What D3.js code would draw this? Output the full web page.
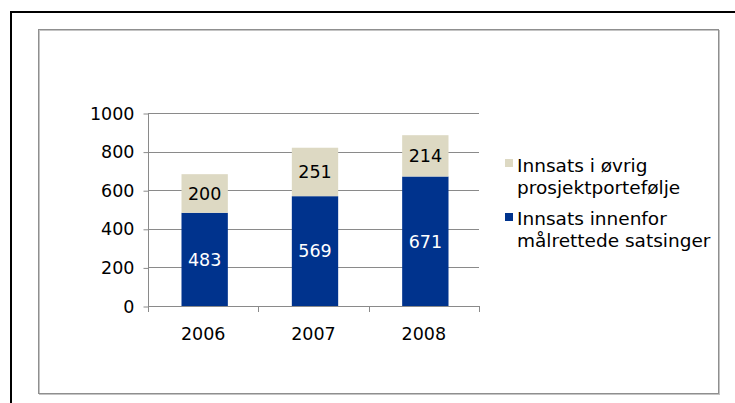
<!DOCTYPE html>
<html>
<head>
<meta charset="utf-8">
<script src="https://cdn.jsdelivr.net/npm/d3@7"></script>
<style>
  html, body { margin: 0; padding: 0; background: #fff; }
  svg { display: block; font-family: "DejaVu Sans", Verdana, sans-serif; }
</style>
</head>
<body>
<svg id="chart" width="735" height="403"></svg>
<script>
const years = ["2006", "2007", "2008"];
const innenfor = [483, 569, 671];
const ovrig = [200, 251, 214];
const yTicks = [0, 200, 400, 600, 800, 1000];
const seriesNames = ["Innsats i øvrig|prosjektportefølje", "Innsats innenfor|målrettede satsinger"];
const colors = { innenfor: "#00338D", ovrig: "#DDD9C3" };

const svg = d3.select("#chart");
const FS = 17.5;

// outer black frame (left + top)
svg.append("path")
  .attr("d", "M11,403 L11,12 L735,12")
  .attr("fill", "none").attr("stroke", "#000").attr("stroke-width", 2);

// inner chart box
svg.append("rect").attr("x", 39.5).attr("y", 30.5).attr("width", 680).attr("height", 364)
  .attr("fill", "none").attr("stroke", "#c4c4c4").attr("stroke-width", 1);
svg.append("rect").attr("x", 38.5).attr("y", 29.5).attr("width", 680).attr("height", 364)
  .attr("fill", "none").attr("stroke", "#8f8f8f").attr("stroke-width", 1);

const y = d3.scaleLinear().domain([0, 1000]).range([306, 113]);
const x = d3.scaleBand().domain(years).range([148, 479]).padding(0);
const barW = x.bandwidth() * 0.42;

const gridColor = "#8a8a8a";

// gridlines
svg.append("g").selectAll("line").data(yTicks.filter(d => d > 0)).join("line")
  .attr("x1", 148).attr("x2", 479)
  .attr("y1", d => Math.round(y(d)) + 0.5).attr("y2", d => Math.round(y(d)) + 0.5)
  .attr("stroke", gridColor).attr("stroke-width", 1);

// y axis
const yAxis = d3.axisLeft(y).tickValues(yTicks).tickFormat(d3.format("d")).tickSize(5).tickPadding(9);
const gy = svg.append("g").attr("transform", "translate(148.5,0.5)").call(yAxis);
gy.select(".domain").attr("stroke", gridColor).attr("d", `M-0,${y(1000)}V${y(0)}`);
gy.selectAll(".tick line").attr("stroke", gridColor);
gy.selectAll(".tick text").attr("font-size", FS).attr("fill", "#000")
  .attr("font-family", "DejaVu Sans, Verdana, sans-serif");

// x axis
svg.append("line").attr("x1", 148).attr("x2", 479.5).attr("y1", 306.5).attr("y2", 306.5)
  .attr("stroke", gridColor);
const bounds = years.map(d => x(d)).concat([x(years[years.length - 1]) + x.bandwidth()]);
svg.append("g").selectAll("line").data(bounds).join("line")
  .attr("x1", d => Math.round(d) + 0.5).attr("x2", d => Math.round(d) + 0.5)
  .attr("y1", 306).attr("y2", 312).attr("stroke", gridColor);
svg.append("g").selectAll("text").data(years).join("text")
  .attr("x", d => x(d) + x.bandwidth() / 2).attr("y", 340)
  .attr("text-anchor", "middle").attr("font-size", FS).attr("fill", "#000")
  .text(d => d);

// bars
const data = years.map((yr, i) => ({ yr, a: innenfor[i], b: ovrig[i] }));
const bx = d => x(d.yr) + (x.bandwidth() - barW) / 2 + 1.5;
svg.append("g").selectAll("rect").data(data).join("rect")
  .attr("x", bx).attr("width", barW)
  .attr("y", d => y(d.a)).attr("height", d => y(0) - y(d.a))
  .attr("fill", colors.innenfor);
svg.append("g").selectAll("rect").data(data).join("rect")
  .attr("x", bx).attr("width", barW)
  .attr("y", d => y(d.a + d.b)).attr("height", d => y(d.a) - y(d.a + d.b))
  .attr("fill", colors.ovrig);

// data labels
svg.append("g").selectAll("text").data(data).join("text")
  .attr("x", d => bx(d) + barW / 2).attr("y", d => (y(0) + y(d.a)) / 2)
  .attr("dy", "0.36em").attr("text-anchor", "middle").attr("font-size", FS)
  .attr("fill", "#fff").text(d => d.a);
svg.append("g").selectAll("text").data(data).join("text")
  .attr("x", d => bx(d) + barW / 2).attr("y", d => (y(d.a) + y(d.a + d.b)) / 2)
  .attr("dy", "0.36em").attr("text-anchor", "middle").attr("font-size", FS)
  .attr("fill", "#000").text(d => d.b);

// legend
const legend = [
  { name: seriesNames[0], color: colors.ovrig, sy: 159, ty: 172 },
  { name: seriesNames[1], color: colors.innenfor, sy: 213, ty: 225 }
];
legend.forEach(l => {
  svg.append("rect").attr("x", 505).attr("y", l.sy).attr("width", 8).attr("height", 8).attr("fill", l.color);
  const t = svg.append("text").attr("x", 517).attr("y", l.ty).attr("font-size", 18.5).attr("fill", "#000");
  l.name.split("|").forEach((s, i) => {
    t.append("tspan").attr("x", 517).attr("dy", i === 0 ? 0 : 21.5).text(s);
  });
});
</script>
</body>
</html>
